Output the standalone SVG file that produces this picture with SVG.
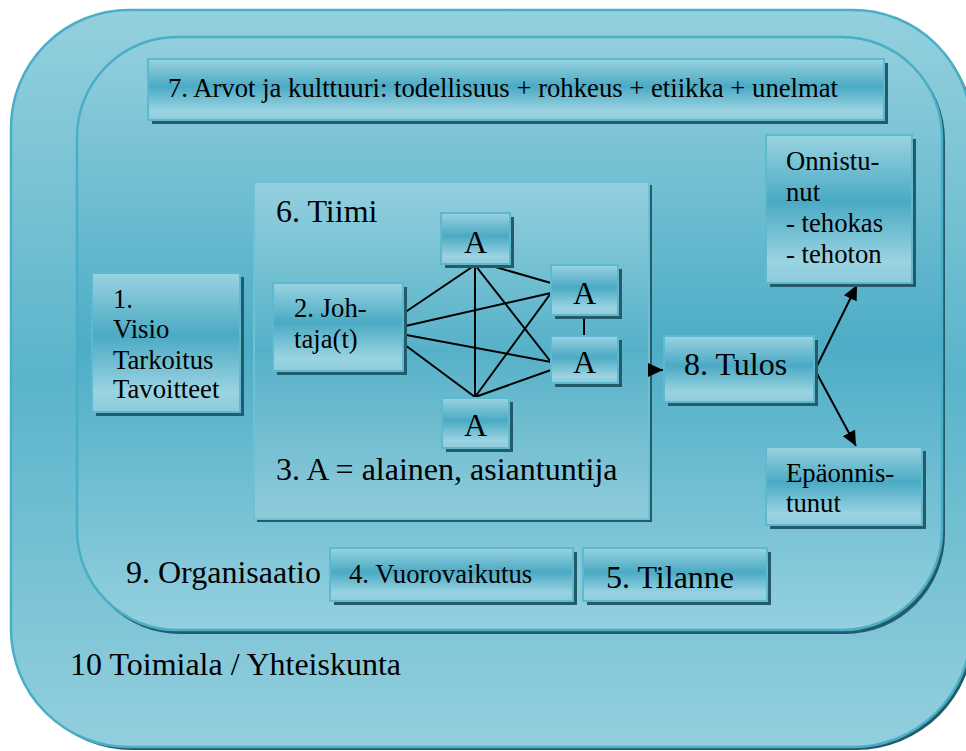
<svg xmlns="http://www.w3.org/2000/svg" width="966" height="751" viewBox="0 0 966 751">
  <defs>
    <linearGradient id="gOuter" x1="0" y1="0" x2="0" y2="1">
      <stop offset="0" stop-color="#94d0de"/>
      <stop offset="0.5" stop-color="#5ab4ca"/>
      <stop offset="1" stop-color="#93cfde"/>
    </linearGradient>
    <linearGradient id="gInner" x1="0" y1="0" x2="0" y2="1">
      <stop offset="0" stop-color="#93cfde"/>
      <stop offset="0.52" stop-color="#4dadc6"/>
      <stop offset="1" stop-color="#94d0df"/>
    </linearGradient>
    <linearGradient id="gTeam" x1="0" y1="0" x2="0" y2="1">
      <stop offset="0" stop-color="#94d0df"/>
      <stop offset="0.5" stop-color="#56b1c8"/>
      <stop offset="1" stop-color="#8fcbdb"/>
    </linearGradient>
    <linearGradient id="gBox" x1="0" y1="0" x2="0" y2="1">
      <stop offset="0" stop-color="#9ad3e1"/>
      <stop offset="0.45" stop-color="#4aaac4"/>
      <stop offset="0.85" stop-color="#9ad3e1"/>
      <stop offset="1" stop-color="#8ecbdb"/>
    </linearGradient>
    <marker id="head" markerUnits="userSpaceOnUse" markerWidth="16" markerHeight="14" refX="15" refY="7" orient="auto">
      <path d="M0,0 L15,7 L0,14 Z" fill="#000"/>
    </marker>
  </defs>
  <style>
    .shadow { fill: #245b6b; }
    .box { fill: url(#gBox); stroke: #5cb9d0; stroke-width: 2; }
    .frame { stroke: #4aaec6; stroke-width: 2.5; }
    text { font-family: 'Liberation Serif', 'DejaVu Serif', serif; fill: #000; }
    .s { font-size: 26.7px; }
    .b { font-size: 32px; }
    .mid { text-anchor: middle; }
    .link { stroke: #000; stroke-width: 2; fill: none; }
  </style>

  <!-- 10 industry / society -->
  <g id="n10">
    <rect x="14" y="13" width="960" height="737" rx="118" ry="118" class="shadow"/>
    <rect x="11" y="10" width="960" height="737" rx="118" ry="118" fill="url(#gOuter)" class="frame"/>
    <text x="70" y="675" class="b">10 Toimiala / Yhteiskunta</text>
  </g>

  <!-- 9 organisation -->
  <g id="n9">
    <rect x="80" y="40" width="865" height="594" rx="100" ry="100" class="shadow"/>
    <rect x="77" y="37" width="865" height="593" rx="100" ry="100" fill="url(#gInner)" class="frame"/>
    <text x="126" y="583" class="b">9. Organisaatio</text>
  </g>

  <!-- 7 values and culture -->
  <g id="n7">
    <rect x="152" y="63" width="736" height="61" class="shadow"/>
    <rect x="148" y="59" width="736" height="61" class="box"/>
    <text x="168" y="97" class="s">7. Arvot ja kulttuuri: todellisuus + rohkeus + etiikka + unelmat</text>
  </g>

  <!-- 1 vision -->
  <g id="n1">
    <rect x="96" y="277" width="148" height="139" class="shadow"/>
    <rect x="92" y="273" width="148" height="139" class="box"/>
    <text class="s">
      <tspan x="113" y="308">1.</tspan>
      <tspan x="113" y="338">Visio</tspan>
      <tspan x="113" y="369">Tarkoitus</tspan>
      <tspan x="113" y="398">Tavoitteet</tspan>
    </text>
  </g>

  <!-- 6 team -->
  <g id="n6">
    <rect x="257" y="185" width="395" height="337" class="shadow"/>
    <rect x="254" y="182" width="395" height="337" fill="url(#gTeam)" stroke="#6cc1d5" stroke-width="2"/>
    <text x="276" y="222" class="b">6. Tiimi</text>
    <text x="276" y="480" class="b">3. A = alainen, asiantuntija</text>
  </g>

  <!-- links inside the team and towards the result -->
  <g id="connectors">
    <line x1="401" y1="315" x2="475" y2="265" class="link"/>
    <line x1="401" y1="327" x2="551" y2="293" class="link"/>
    <line x1="401" y1="334" x2="551" y2="362" class="link"/>
    <line x1="401" y1="342" x2="475" y2="397" class="link"/>
    <line x1="475" y1="265" x2="475" y2="397" class="link"/>
    <line x1="475" y1="265" x2="551" y2="362" class="link"/>
    <line x1="485" y1="264" x2="551" y2="283" class="link"/>
    <line x1="475" y1="397" x2="551" y2="293" class="link"/>
    <line x1="475" y1="397" x2="551" y2="370" class="link"/>
    <line x1="584" y1="315" x2="584" y2="336" class="link"/>
    <line x1="651" y1="370" x2="663" y2="370" class="link" marker-end="url(#head)"/>
    <line x1="815" y1="370" x2="857" y2="285" class="link" marker-end="url(#head)"/>
    <line x1="815" y1="370" x2="856" y2="446" class="link" marker-end="url(#head)"/>
  </g>

  <!-- 2 leader -->
  <g id="n2">
    <rect x="277" y="287" width="130" height="88" class="shadow"/>
    <rect x="273" y="283" width="130" height="88" class="box"/>
    <text class="s">
      <tspan x="294" y="317">2. Joh-</tspan>
      <tspan x="294" y="348">taja(t)</tspan>
    </text>
  </g>

  <!-- 3 team members -->
  <g id="a-top">
    <rect x="445" y="217" width="69" height="51" class="shadow"/>
    <rect x="441" y="213" width="69" height="51" class="box"/>
    <text x="475.5" y="253" class="b mid">A</text>
  </g>
  <g id="a-right1">
    <rect x="555" y="269" width="67" height="50" class="shadow"/>
    <rect x="551" y="265" width="67" height="50" class="box"/>
    <text x="584.5" y="304" class="b mid">A</text>
  </g>
  <g id="a-right2">
    <rect x="555" y="340" width="67" height="47" class="shadow"/>
    <rect x="551" y="336" width="67" height="47" class="box"/>
    <text x="584.5" y="373" class="b mid">A</text>
  </g>
  <g id="a-bottom">
    <rect x="446" y="402" width="67" height="50" class="shadow"/>
    <rect x="442" y="398" width="67" height="50" class="box"/>
    <text x="475.5" y="436" class="b mid">A</text>
  </g>

  <!-- 8 result -->
  <g id="n8">
    <rect x="668" y="340" width="150" height="66" class="shadow"/>
    <rect x="664" y="336" width="150" height="66" class="box"/>
    <text x="684" y="375" class="b">8. Tulos</text>
  </g>

  <g id="success">
    <rect x="770" y="139" width="146" height="148" class="shadow"/>
    <rect x="766" y="135" width="146" height="148" class="box"/>
    <text class="s">
      <tspan x="786" y="170">Onnistu-</tspan>
      <tspan x="786" y="201">nut</tspan>
      <tspan x="786" y="232">- tehokas</tspan>
      <tspan x="786" y="263">- tehoton</tspan>
    </text>
  </g>

  <g id="failure">
    <rect x="770" y="451" width="156" height="78" class="shadow"/>
    <rect x="766" y="447" width="156" height="78" class="box"/>
    <text class="s">
      <tspan x="786" y="482">Epäonnis-</tspan>
      <tspan x="786" y="512">tunut</tspan>
    </text>
  </g>

  <!-- 4 interaction, 5 situation -->
  <g id="n4">
    <rect x="334" y="552" width="243" height="53" class="shadow"/>
    <rect x="330" y="548" width="243" height="53" class="box"/>
    <text x="349" y="583" class="s">4. Vuorovaikutus</text>
  </g>
  <g id="n5">
    <rect x="587" y="552" width="184" height="53" class="shadow"/>
    <rect x="583" y="548" width="184" height="53" class="box"/>
    <text x="606" y="588" class="b">5. Tilanne</text>
  </g>
</svg>
